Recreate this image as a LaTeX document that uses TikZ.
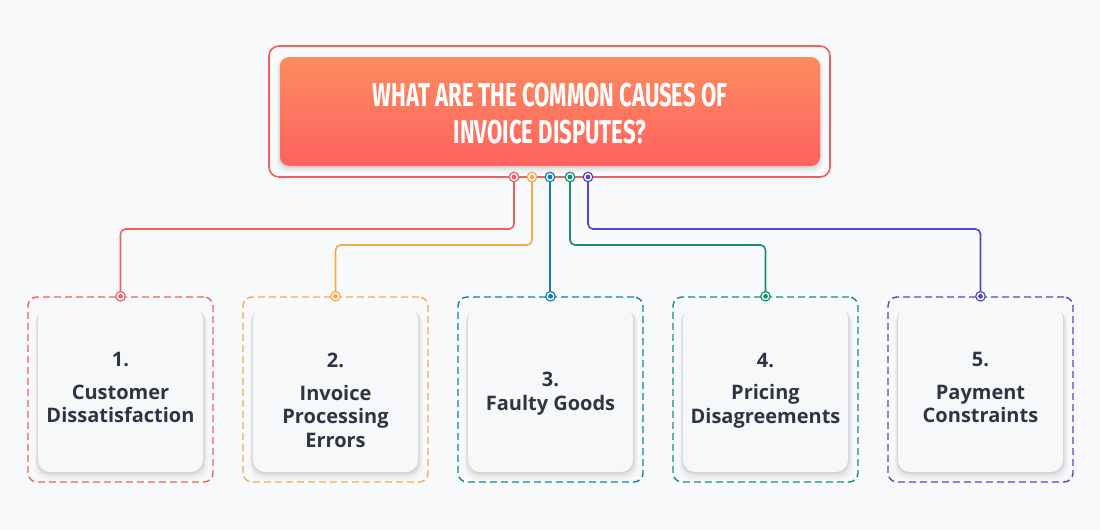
\documentclass[tikz,border=0pt]{standalone}
\usepackage{fontspec}
\setmainfont{Open Sans}
\newfontfamily\titlefont[FakeStretch=0.67]{Fira Sans}
\usetikzlibrary{calc}
\definecolor{bg}{HTML}{F7F9FB}
\definecolor{cred}{HTML}{EE615F}
\definecolor{corange}{HTML}{F4AA4C}
\definecolor{cblue}{HTML}{0F80B0}
\definecolor{cgreen}{HTML}{149074}
\definecolor{cpurple}{HTML}{5545C8}
\definecolor{ctext}{HTML}{2F3542}
\definecolor{gtop}{HTML}{FC8C5F}
\definecolor{gbot}{HTML}{FF625F}
\definecolor{card}{HTML}{F7F8FA}
\tikzset{
  dashbox/.style={draw=#1, line width=1.4pt, dash pattern=on 7pt off 4pt, rounded corners=9pt, minimum width=185pt, minimum height=185pt, inner sep=0pt},
  cardbox/.style={fill=card, rounded corners=12pt, minimum width=165pt, minimum height=165pt, inner sep=0pt},
  cardtext/.style={text=ctext, font=\fontsize{20}{23.5}\selectfont\bfseries, align=center},
  conn/.style={draw=#1, line width=1.6pt, rounded corners=5pt},
  ring/.style={circle, draw=#1, fill=white, line width=1.2pt, minimum size=9.5pt, inner sep=0pt, path picture={\fill[#1] (path picture bounding box.center) circle (2.4pt);}},
}
\begin{document}
\begin{tikzpicture}[x=1pt,y=-1pt]
\fill[bg] (0,0) rectangle (1100,530);
\useasboundingbox (0,0) rectangle (1100,530);
% title
\node[draw=cred, line width=1.6pt, rounded corners=10pt, minimum width=561pt, minimum height=131pt, inner sep=0pt] (title) at (549.5,111.5) {};
\foreach \k/\o in {6/0.03,4/0.04,2/0.05}{
  \fill[black, opacity=\o, rounded corners=10pt] (280-\k/2,57+1) rectangle (820+\k/2,166+\k);
}
\shade[top color=gtop, bottom color=gbot, rounded corners=9pt] (280,57) rectangle (820,166);
\node[text=white, align=center, font=\titlefont\bfseries\fontsize{33}{37}\selectfont] (ttext) at (550,114) {WHAT ARE THE COMMON CAUSES OF\\INVOICE DISPUTES?};
% cards
\foreach \i/\x/\c in {1/120.5/cred,2/335.5/corange,3/550.5/cblue,4/765.5/cgreen,5/980.5/cpurple}{
  \node[dashbox=\c] (o\i) at (\x,389.5) {};
  \foreach \k/\o in {10/0.025,7/0.035,4/0.045,2/0.05}{
    \fill[black, opacity=\o, rounded corners=13pt] ($(o\i.center)+(-82.5-\k/3,-82.5+\k/3)$) rectangle ($(o\i.center)+(82.5+\k/2,82.5+\k*0.8)$);
  }
  \node[cardbox] (c\i) at (\x,389.5) {};
}
\node[cardtext] (t1) at ($(c1)+(0,-2)$) {1.\\[9pt]Customer\\Dissatisfaction};
\node[cardtext] (t2) at ($(c2)+(0,11)$) {2.\\[9pt]Invoice\\Processing\\Errors};
\node[cardtext] (t3) at ($(c3)+(0,4)$) {3.\\Faulty Goods};
\node[cardtext] (t4) at ($(c4)+(0,1)$) {4.\\[9pt]Pricing\\Disagreements};
\node[cardtext] (t5) at ($(c5)+(0,-2)$) {5.\\[9pt]Payment\\Constraints};
% connectors
\coordinate (s1) at (514,177);
\coordinate (s2) at (532,177);
\coordinate (s3) at (550,177);
\coordinate (s4) at (570,177);
\coordinate (s5) at (588,177);
\draw[conn=cred] (s1) -- ++(0,52) -| (o1.north);
\draw[conn=corange] (s2) -- ++(0,68) -| (o2.north);
\draw[conn=cblue] (s3) -- (s3 |- o3.north);
\draw[conn=cgreen] (s4) -- ++(0,68) -| (o4.north);
\draw[conn=cpurple] (s5) -- ++(0,52) -| (o5.north);
\foreach \i/\c in {1/cred,2/corange,3/cblue,4/cgreen,5/cpurple}{
  \node[ring=\c] (r\i) at (s\i) {};
  \node[ring=\c] (q\i) at (o\i.north) {};
}
\end{tikzpicture}
\end{document}
